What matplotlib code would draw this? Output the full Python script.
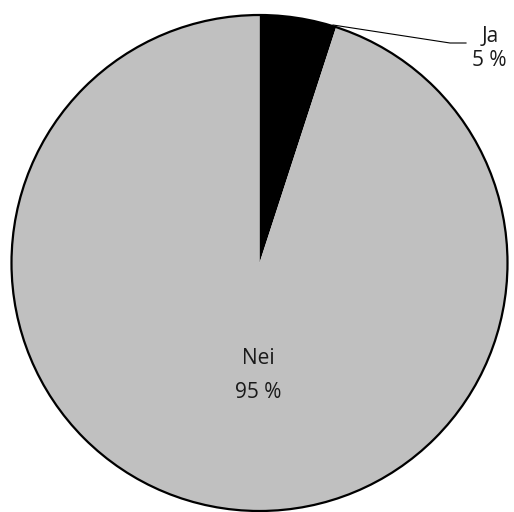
import matplotlib
matplotlib.use("Agg")
import matplotlib.pyplot as plt
from matplotlib.patches import Circle

labels = ["Ja", "Nei"]
values = [5, 95]
pct_labels = ["5 %", "95 %"]
colors = ["#000000", "#c0c0c0"]

W, H = 514, 512
fig = plt.figure(figsize=(W / 100, H / 100), dpi=100)
ax = fig.add_axes([0, 0, 1, 1])
cx, cy, R = 259.5, 263.0, 248.0
ax.set_xlim(-cx / R, (W - cx) / R)
ax.set_ylim(-(H - cy) / R, cy / R)
ax.axis("off")

ax.pie(values, colors=colors, startangle=90, counterclock=False,
       radius=1, center=(0, 0), frame=True,
       wedgeprops=dict(linewidth=0))
ax.set_xlim(-cx / R, (W - cx) / R)
ax.set_ylim(-(H - cy) / R, cy / R)
ax.set_aspect("auto")
ax.axis("off")
ax.add_patch(Circle((0, 0), 1, fill=False, edgecolor="black", linewidth=1.6))

def px(x, y):
    return ((x - cx) / R, (cy - y) / R)

font = dict(family=["Open Sans", "DejaVu Sans"], fontsize=15, color="#1a1a1a",
            ha="center", va="center")

# Nei label
ax.text(*px(258.5, 358), labels[1], **font)
ax.text(*px(258.5, 392), pct_labels[1], **font)

# Ja label with leader line
ax.text(*px(490, 36), labels[0], **font)
ax.text(*px(489, 60), pct_labels[0], **font)
p0 = px(333, 25); p1 = px(450, 43); p2 = px(466, 43)
ax.plot([p0[0], p1[0], p2[0]], [p0[1], p1[1], p2[1]], color="black", linewidth=0.8)

fig.savefig("out.png", dpi=100)
